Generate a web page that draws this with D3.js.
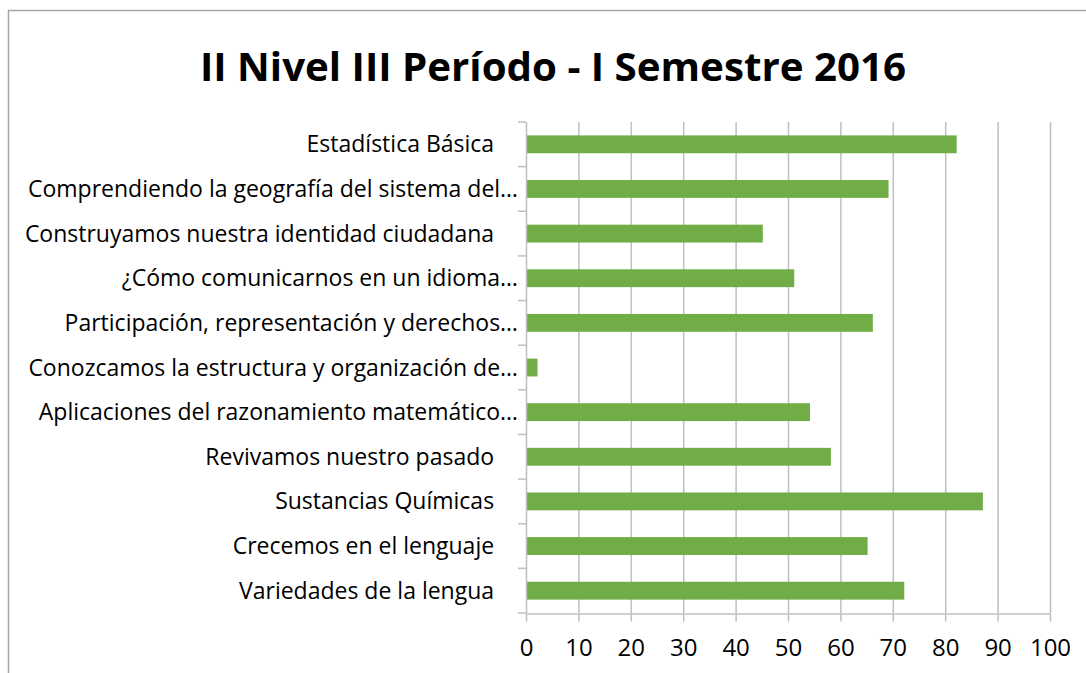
<!DOCTYPE html>
<html>
<head>
<meta charset="utf-8">
<script src="https://cdn.jsdelivr.net/npm/d3@7"></script>
<style>
  body { margin: 0; background: #fff; }
  text { font-family: "Open Sans", "Noto Sans", sans-serif; fill: #000; }
</style>
</head>
<body>
<svg width="1086" height="673"></svg>
<script>
var categories = [
    "Estadística Básica ",
    "Comprendiendo la geografía del sistema del…",
    "Construyamos nuestra identidad ciudadana ",
    "¿Cómo comunicarnos en un idioma…",
    "Participación, representación y derechos…",
    "Conozcamos la estructura y organización de…",
    "Aplicaciones del razonamiento matemático…",
    "Revivamos nuestro pasado ",
    "Sustancias Químicas ",
    "Crecemos en el lenguaje ",
    "Variedades de la lengua "
];
var values = [82, 69, 45, 51, 66, 2, 54, 58, 87, 65, 72];
var ticks = [0, 10, 20, 30, 40, 50, 60, 70, 80, 90, 100];

var color = '#70AD47';
var gridColor = '#BFBFBF';

var svg = d3.select("svg");

// chart frame
svg.append("rect")
    .attr("x", 8.5).attr("y", 10.5)
    .attr("width", 1100).attr("height", 700)
    .attr("fill", "none")
    .attr("stroke", "#A6A6A6")
    .attr("stroke-width", 1.5);

svg.append("text")
    .attr("x", 553)
    .attr("y", 81)
    .attr("text-anchor", "middle")
    .attr("font-size", 40)
    .attr("font-weight", "bold")
    .attr("textLength", 706)
    .attr("lengthAdjust", "spacingAndGlyphs")
    .text("II Nivel III Período - I Semestre 2016");

var plotLeft = 526, plotRight = 1050, plotTop = 122, plotBottom = 613;

var x = d3.scaleLinear().domain([0, 100]).range([plotLeft, plotRight]);
var y = d3.scaleBand().domain(categories).range([plotTop, plotBottom]).paddingInner(0.6).paddingOuter(0.3);

// gridlines
svg.append("g").selectAll("line")
    .data(ticks.slice(1))
    .enter().append("line")
    .attr("x1", function (d) { return x(d) + 0.5; })
    .attr("x2", function (d) { return x(d) + 0.5; })
    .attr("y1", plotTop).attr("y2", plotBottom)
    .attr("stroke", gridColor)
    .attr("stroke-width", 1.5);

// bars
svg.append("g").selectAll("rect")
    .data(values)
    .enter().append("rect")
    .attr("x", x(0) + 1)
    .attr("y", function (d, i) { return y(categories[i]); })
    .attr("width", function (d) { return x(d) - x(0); })
    .attr("height", y.bandwidth())
    .attr("fill", color);

// x axis
var xAxis = svg.append("g")
    .attr("transform", "translate(0," + (plotBottom + 0.5) + ")")
    .call(d3.axisBottom(x).tickValues(ticks).tickSize(8).tickPadding(17).tickSizeOuter(0));
xAxis.select(".domain").attr("stroke", gridColor).attr("stroke-width", 1.5);
xAxis.selectAll(".tick line").attr("stroke", gridColor).attr("stroke-width", 1.5);
xAxis.selectAll("text").attr("font-size", 24).attr("font-family", "Open Sans, sans-serif").attr("dy", "0.71em");

// y axis with ticks at band edges
var step = (plotBottom - plotTop) / categories.length;
var yAx = svg.append("g");
yAx.append("line")
    .attr("x1", plotLeft + 0.5).attr("x2", plotLeft + 0.5)
    .attr("y1", plotTop).attr("y2", plotBottom)
    .attr("stroke", gridColor).attr("stroke-width", 1.5);
yAx.selectAll(".edge")
    .data(d3.range(categories.length + 1))
    .enter().append("line")
    .attr("x1", plotLeft - 8).attr("x2", plotLeft)
    .attr("y1", function (d) { return plotTop + d * step; })
    .attr("y2", function (d) { return plotTop + d * step; })
    .attr("stroke", gridColor).attr("stroke-width", 1.5);

yAx.selectAll("text")
    .data(categories)
    .enter().append("text")
    .attr("x", 518)
    .attr("y", function (d) { return y(d) + y.bandwidth() / 2; })
    .attr("dy", "0.35em")
    .attr("text-anchor", "end")
    .attr("font-size", 23)
    .text(function (d) { return d.replace(/ $/, "\u00A0\u00A0\u00A0\u00A0"); });
</script>
</body>
</html>
